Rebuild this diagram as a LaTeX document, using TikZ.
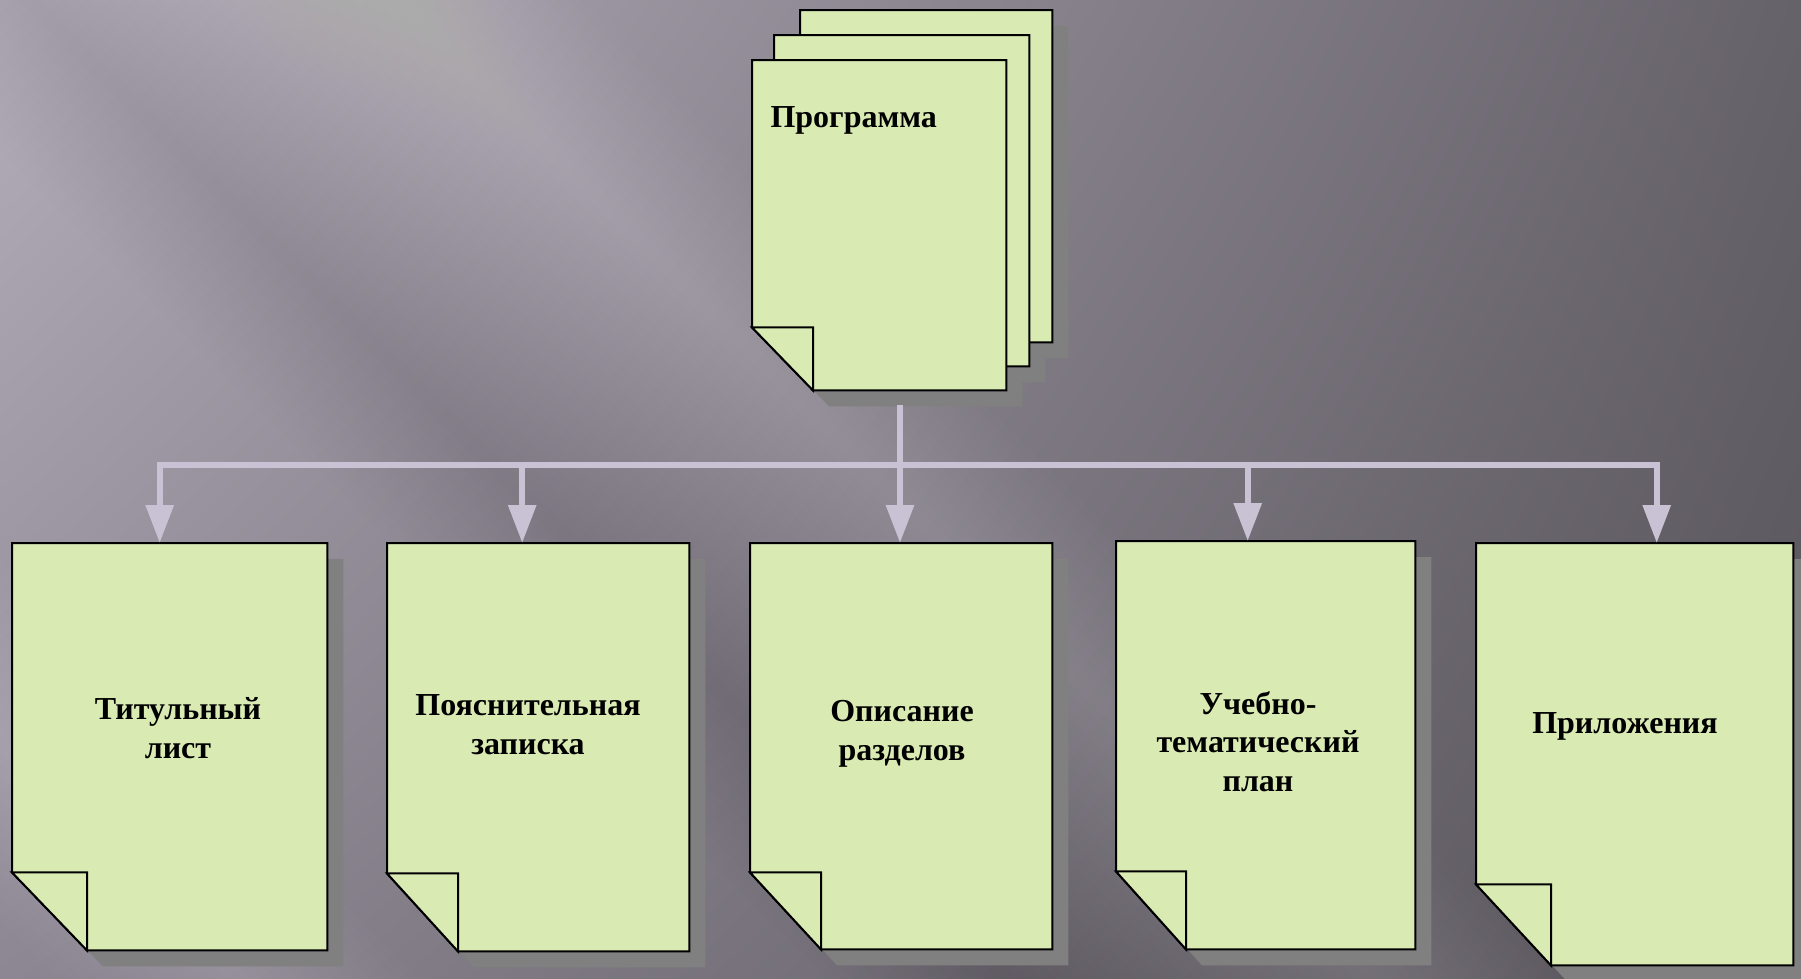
\documentclass[tikz,border=0pt]{standalone}
\usepackage{fontspec}
\setmainfont{Liberation Serif}
\usetikzlibrary{arrows.meta, shadings}

\definecolor{paper}{HTML}{D9EAB3}
\definecolor{papershade}{HTML}{808080}
\definecolor{linkcol}{HTML}{C8C2D4}
\definecolor{bgul}{HTML}{B4AEBA}
\definecolor{bgur}{HTML}{66626A}
\definecolor{bgll}{HTML}{8C8792}
\definecolor{bglr}{HTML}{58545A}

\begin{document}
\begin{tikzpicture}[
    x=1pt, y=-1pt,
    page/.style={rectangle, inner sep=0pt, anchor=north west},
    sheet/.style={fill=paper, draw=black, line width=2pt},
    dropshade/.style={fill=papershade, transform canvas={shift={(16pt,-16pt)}}},
    caption/.style={font=\bfseries\fontsize{32}{38.5}\selectfont, align=center, anchor=base},
    link/.style={draw=linkcol, line width=6pt},
    arrow/.style={link, -{Triangle[width=27pt, length=38pt]}}
]
\useasboundingbox (0,0) rectangle (1801,978);

% Background with soft diagonal streaks
\shade[upper left=bgul, upper right=bgur, lower left=bgll, lower right=bglr] (0,0) rectangle (1801,978);
\foreach \cx/\cy/\col/\op in {440/40/white/0.011, 330/300/black/0.004, 60/800/white/0.010, 1060/440/white/0.005}
    \foreach \w in {12,24,...,180}
        \fill[\col, fill opacity=\op] ({\cx-\w-1000},{\cy-1000}) -- ({\cx+\w-1000},{\cy-1000})
            -- ({\cx+\w+1000},{\cy+1000}) -- ({\cx-\w+1000},{\cy+1000}) -- cycle;

% Pages
\node[page, minimum width=252, minimum height=332] (progback) at (800,10) {};
\node[page, minimum width=255, minimum height=331] (progmid) at (774,35) {};
\node[page, minimum width=254, minimum height=330] (prog) at (752,60) {};

\node[page, minimum width=315, minimum height=407] (title) at (12,543) {};
\node[page, minimum width=302, minimum height=408] (note) at (387,543) {};
\node[page, minimum width=302, minimum height=406] (sections) at (750,543) {};
\node[page, minimum width=299, minimum height=408] (plan) at (1116,541) {};
\node[page, minimum width=317, minimum height=422] (appendix) at (1476,543) {};

% Shadows
\foreach \n/\fw/\fh in {progback/61/63, progmid/61/63, prog/61/63, title/75/78, note/71/78, sections/71/77, plan/70/78, appendix/75/81}
    \fill[dropshade] (\n.north west) -- (\n.north east) -- (\n.south east)
        -- ([xshift=\fw]\n.south west) -- ([yshift=\fh]\n.south west) -- cycle;

% Sheets with folded corner
\foreach \n/\fw/\fh in {progback/61/63, progmid/61/63, prog/61/63, title/75/78, note/71/78, sections/71/77, plan/70/78, appendix/75/81} {
    \draw[sheet] (\n.north west) -- (\n.north east) -- (\n.south east)
        -- ([xshift=\fw]\n.south west) -- ([yshift=\fh]\n.south west) -- cycle;
    \draw[sheet] ([yshift=\fh]\n.south west) -- ([xshift=\fw, yshift=\fh]\n.south west)
        -- ([xshift=\fw]\n.south west) -- cycle;
}

% Labels (base = last line)
\node[caption, anchor=base west] (proglbl) at (767,127) {Программа};
\node[caption] (titlelbl) at (178,758) {Титульный\\лист};
\node[caption] (notelbl) at (528,754) {Пояснительная\\записка};
\node[caption] (sectionslbl) at (902,760) {Описание\\разделов};
\node[caption] (planlbl) at (1258,791) {Учебно-\\тематический\\план};
\node[caption] (appendixlbl) at (1625,733) {Приложения};

% Connectors
\coordinate (fork) at (900,465);
\draw[link] ([yshift=-15pt]prog.south -| fork) -- (fork);
\draw[arrow] (fork) -| ([xshift=-10pt]title.north);
\draw[arrow] (fork) -| ([xshift=-16pt]note.north);
\draw[arrow] (fork) -- (fork |- sections.north);
\draw[arrow] (fork) -| ([xshift=-18pt]plan.north);
\draw[arrow] (fork) -| ([xshift=22pt]appendix.north);

\end{tikzpicture}
\end{document}
